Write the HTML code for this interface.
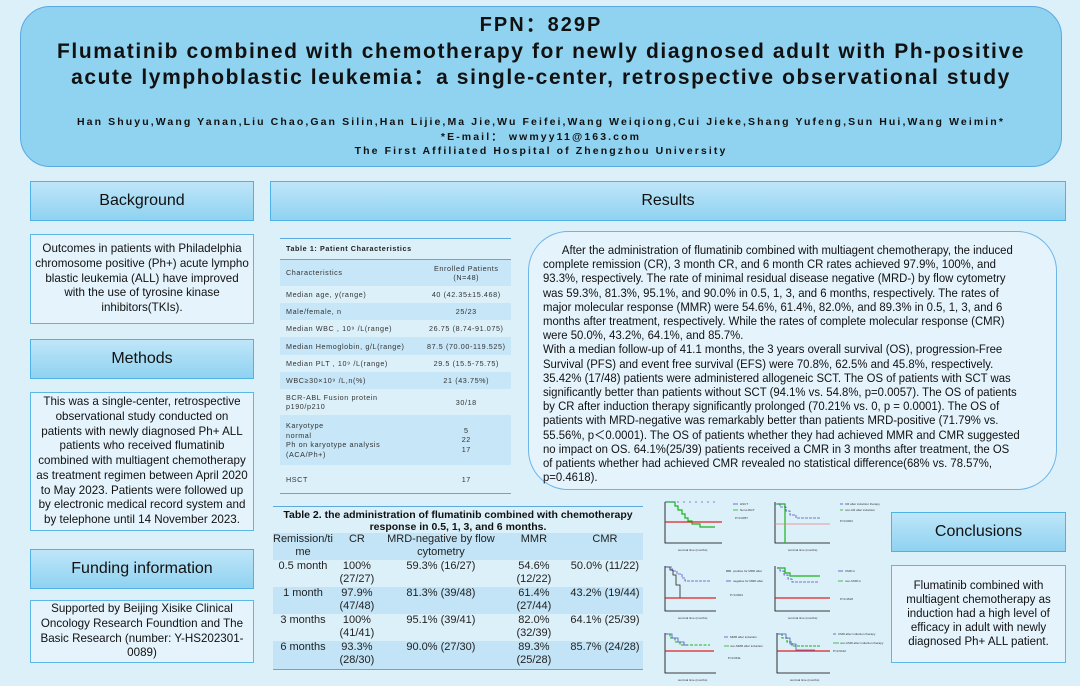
<!DOCTYPE html>
<html><head><meta charset="utf-8"><style>
*{margin:0;padding:0;box-sizing:border-box}
body{width:1080px;height:686px;background:#dcf0fa;font-family:"Liberation Sans",Arial,sans-serif;color:#111;position:relative;overflow:hidden}
.abs{position:absolute}
.hdr{left:20px;top:6px;width:1042px;height:161px;background:#90d3f1;border:1.5px solid #5aa9e2;border-radius:30px;text-align:center}
.sec{background:linear-gradient(#bfe6f8,#8fd2f1);border:1.5px solid #4fb2e6;text-align:center;font-size:16px;display:flex;align-items:center;justify-content:center}
.tb{background:#e4f3fc;border:1.5px solid #5cb6e8;font-size:11.6px;line-height:14.8px;text-align:center;display:flex;align-items:center;justify-content:center;padding:0 2px;white-space:nowrap}
table{border-collapse:collapse}
.t1 td{font-size:7.2px;letter-spacing:.6px;color:#333;padding:0 0 0 6px;vertical-align:middle}
.t1 tr.s{background:#c7e6f7}
.t2 td{font-size:11px;line-height:12.5px;text-align:center;vertical-align:top;color:#222}
.t2 tr.s{background:#c2e4f6}
</style></head><body>

<div class="abs hdr">
 <div style="margin-top:1px;font-size:20px;font-weight:bold;letter-spacing:2px">FPN：829P</div>
 <div style="margin-top:2px;font-size:21px;font-weight:bold;letter-spacing:1.6px;line-height:26px">Flumatinib combined with chemotherapy for newly diagnosed adult with Ph-positive<br>acute lymphoblastic leukemia：a single-center, retrospective observational study</div>
 <div style="margin-top:24px;font-size:10.5px;font-weight:bold;letter-spacing:2.1px;line-height:14.5px">Han Shuyu,Wang Yanan,Liu Chao,Gan Silin,Han Lijie,Ma Jie,Wu Feifei,Wang Weiqiong,Cui Jieke,Shang Yufeng,Sun Hui,Wang Weimin*<br>*E-mail： wwmyy11@163.com<br>The First Affiliated Hospital of Zhengzhou University</div>
</div>

<div class="abs sec" style="left:30px;top:181px;width:224px;height:40px">Background</div>
<div class="abs tb" style="left:30px;top:234px;width:224px;height:90px">Outcomes in patients with Philadelphia<br>chromosome positive (Ph+) acute lympho<br>blastic leukemia (ALL) have improved<br>with the use of tyrosine kinase<br>inhibitors(TKIs).</div>
<div class="abs sec" style="left:30px;top:339px;width:224px;height:40px">Methods</div>
<div class="abs tb" style="left:30px;top:392px;width:224px;height:139px">This was a single-center, retrospective<br>observational study conducted on<br>patients with newly diagnosed Ph+ ALL<br>patients who received flumatinib<br>combined with multiagent chemotherapy<br>as treatment regimen between April 2020<br>to May 2023. Patients were followed up<br>by electronic medical record system and<br>by telephone until 14 November 2023.</div>
<div class="abs sec" style="left:30px;top:549px;width:224px;height:40px">Funding information</div>
<div class="abs tb" style="left:30px;top:600px;width:224px;height:63px">Supported by Beijing Xisike Clinical<br>Oncology Research Foundtion and The<br>Basic Research (number: Y-HS202301-<br>0089)</div>

<div class="abs sec" style="left:270px;top:181px;width:796px;height:40px">Results</div>

<div class="abs" style="left:280px;top:238px;width:231px;border-top:1.5px solid #5aa9e2;border-bottom:1.5px solid #5aa9e2">
<table class="t1" style="width:100%">
<tr style="height:20px"><td colspan="2" style="font-weight:bold;color:#222">Table 1: Patient Characteristics</td></tr>
<tr class="s" style="height:27px;border-top:1px solid #5aa9e2"><td>Characteristics</td><td style="text-align:center;padding:0">Enrolled Patients<br>(N=48)</td></tr>
<tr style="height:17px"><td>Median age, y(range)</td><td style="text-align:center;padding:0">40 (42.35±15.468)</td></tr>
<tr class="s" style="height:17px"><td>Male/female, n</td><td style="text-align:center;padding:0">25/23</td></tr>
<tr style="height:17px"><td>Median WBC , 10⁹ /L(range)</td><td style="text-align:center;padding:0">26.75 (8.74-91.075)</td></tr>
<tr class="s" style="height:18px"><td>Median Hemoglobin, g/L(range)</td><td style="text-align:center;padding:0">87.5 (70.00-119.525)</td></tr>
<tr style="height:17px"><td>Median PLT , 10⁹ /L(range)</td><td style="text-align:center;padding:0">29.5 (15.5-75.75)</td></tr>
<tr class="s" style="height:17px"><td>WBC≥30×10⁹ /L,n(%)</td><td style="text-align:center;padding:0">21 (43.75%)</td></tr>
<tr style="height:26px"><td>BCR-ABL Fusion protein<br>p190/p210</td><td style="text-align:center;padding:0">30/18</td></tr>
<tr class="s" style="height:50px"><td style="line-height:9.5px">Karyotype<br>normal<br>Ph on karyotype analysis<br>(ACA/Ph+)</td><td style="text-align:center;padding:0;line-height:9.5px">5<br>22<br>17</td></tr>
<tr style="height:28px"><td>HSCT</td><td style="text-align:center;padding:0">17</td></tr>
</table></div>

<div class="abs" style="left:528px;top:231px;width:529px;height:259px;border:1.5px solid #6fb4e6;border-radius:40px;background:#e4f3fc"></div>
<div class="abs" style="left:543px;top:243px;font-size:12.2px;line-height:14.2px;white-space:nowrap;color:#111;transform:scaleX(0.93);transform-origin:0 0">
&nbsp;&nbsp;&nbsp;&nbsp;&nbsp;&nbsp;After the administration of flumatinib combined with multiagent chemotherapy, the induced<br>complete remission (CR), 3 month CR, and 6 month CR rates achieved 97.9%, 100%, and<br>93.3%, respectively. The rate of minimal residual disease negative (MRD-) by flow cytometry<br>was 59.3%, 81.3%, 95.1%, and 90.0% in 0.5, 1, 3, and 6 months, respectively. The rates of<br>major molecular response (MMR) were 54.6%, 61.4%, 82.0%, and 89.3% in 0.5, 1, 3, and 6<br>months after treatment, respectively. While the rates of complete molecular response (CMR)<br>were 50.0%, 43.2%, 64.1%, and 85.7%.<br>With a median follow-up of 41.1 months, the 3 years overall survival (OS), progression-Free<br>Survival (PFS) and event free survival (EFS) were 70.8%, 62.5% and 45.8%, respectively.<br>35.42% (17/48) patients were administered allogeneic SCT. The OS of patients with SCT was<br>significantly better than patients without SCT (94.1% vs. 54.8%, p=0.0057). The OS of patients<br>by CR after induction therapy significantly prolonged (70.21% vs. 0, p = 0.0001). The OS of<br>patients with MRD-negative was remarkably better than patients MRD-positive (71.79% vs.<br>55.56%, p＜0.0001). The OS of patients whether they had achieved MMR and CMR suggested<br>no impact on OS. 64.1%(25/39) patients received a CMR in 3 months after treatment, the OS<br>of patients whether had achieved CMR revealed no statistical difference(68% vs. 78.57%,<br>p=0.4618).
</div>

<div class="abs" style="left:273px;top:506px;width:370px;border-top:1.5px solid #5aa9e2;border-bottom:1.5px solid #5aa9e2">
<div style="text-align:center;font-size:10.5px;font-weight:bold;line-height:12px;padding-top:2px">Table 2. the administration of flumatinib combined with chemotherapy<br>response in 0.5, 1, 3, and 6 months.</div>
<table class="t2" style="width:100%">
<tr class="s" style="height:27px"><td style="width:58px">Remission/ti<br>me</td><td style="width:48px">CR</td><td style="width:120px">MRD-negative by flow<br>cytometry</td><td style="width:66px">MMR</td><td>CMR</td></tr>
<tr style="height:27px"><td>0.5 month</td><td>100%<br>(27/27)</td><td>59.3% (16/27)</td><td>54.6%<br>(12/22)</td><td>50.0% (11/22)</td></tr>
<tr class="s" style="height:27px"><td>1 month</td><td>97.9%<br>(47/48)</td><td>81.3% (39/48)</td><td>61.4%<br>(27/44)</td><td>43.2% (19/44)</td></tr>
<tr style="height:27px"><td>3 months</td><td>100%<br>(41/41)</td><td>95.1% (39/41)</td><td>82.0%<br>(32/39)</td><td>64.1% (25/39)</td></tr>
<tr class="s" style="height:28px"><td>6 months</td><td>93.3%<br>(28/30)</td><td>90.0% (27/30)</td><td>89.3%<br>(25/28)</td><td>85.7% (24/28)</td></tr>
</table></div>

<svg class="abs" style="left:640px;top:490px" width="250" height="196" viewBox="0 0 250 196" font-family="Liberation Sans" font-size="3">
<g stroke-width="0.8" fill="none">
 <path d="M25 12V53H82" stroke="#000"/>
 <path d="M25 12H35V16H38V20H42V24H45V28H48V31H52V34H60V37H75" stroke="#1db31d" stroke-width="1.2"/>
 <path d="M25 12H75" stroke="#6060d0" stroke-dasharray="2 4"/>
 <path d="M25 32H82" stroke="#e02020" stroke-width="1.3"/>
 <path d="M135 12V53H190" stroke="#000"/>
 <path d="M137 14H145V53" stroke="#1db31d" stroke-width="1.2"/>
 <path d="M135 14H140V17H146V21H150V25H156V28H180" stroke="#5050c0" stroke-dasharray="3 1"/>
 <path d="M135 34H190" stroke="#e08080"/>
 <path d="M25 76V121H76" stroke="#000"/>
 <path d="M25 77H30V80H33V85H36V95H40V108H65" stroke="#222"/>
 <path d="M25 77H32V81H37V84H42V88H45V91H70" stroke="#5050c0" stroke-dasharray="3 1"/>
 <path d="M25 108H76" stroke="#e02020" stroke-width="1.3"/>
 <path d="M135 76V121H190" stroke="#000"/>
 <path d="M137 78H145V83H150V86H180" stroke="#1db31d" stroke-width="1.2"/>
 <path d="M137 78H140V81H144V85H148V89H152V92H178" stroke="#5050c0" stroke-dasharray="3 1"/>
 <path d="M135 108H190" stroke="#e02020" stroke-width="1.3"/>
 <path d="M25 143V183H76" stroke="#000"/>
 <path d="M25 144H30V148H35V152H40V155H70" stroke="#1db31d" stroke-dasharray="3 1.5" stroke-width="1.1"/>
 <path d="M25 144H32V148H38V152H44V155H48" stroke="#5050c0"/>
 <path d="M25 161H74" stroke="#e02020" stroke-width="1.3"/>
 <path d="M137 143V183H190" stroke="#000"/>
 <path d="M137 144H142V148H147V152H152V156H180" stroke="#1db31d" stroke-dasharray="3 1" stroke-width="1.1"/>
 <path d="M137 144H146V148H150V154H156V160H175" stroke="#5050c0"/>
 <path d="M137 161H190" stroke="#e02020" stroke-width="1.3"/>
 <path d="M93 14h5" stroke="#5050c0"/><path d="M93 20h5" stroke="#1db31d"/>
 <path d="M200 14h3" stroke="#5050c0"/><path d="M200 20h3" stroke="#1db31d"/>
 <path d="M86 81h5" stroke="#222"/><path d="M86 91h5" stroke="#5050c0"/>
 <path d="M198 81h5" stroke="#5050c0"/><path d="M198 91h5" stroke="#1db31d"/>
 <path d="M84 147h4" stroke="#5050c0"/><path d="M84 156h5" stroke="#1db31d"/>
 <path d="M193 144h3" stroke="#5050c0"/><path d="M193 153h6" stroke="#1db31d"/>
</g>
<g fill="#333">
 <text x="100" y="15">HSCT</text><text x="100" y="21">Non-HSCT</text><text x="95" y="29">P=0.0057</text>
 <text x="205" y="15">CR after induction therapy</text><text x="205" y="21">non-CR after induction</text><text x="200" y="32">P=0.0001</text>
 <text x="93" y="82">positive for MRD after</text><text x="93" y="92">negative for MRD after</text><text x="90" y="106">P&lt;0.0001</text>
 <text x="205" y="82">CMR in</text><text x="205" y="92">non-CMR in</text><text x="200" y="110">P=0.4618</text>
 <text x="90" y="148">MMR after induction</text><text x="90" y="157">non-MMR after induction</text><text x="88" y="169">P=0.6611</text>
 <text x="198" y="145">CMR after induction therapy</text><text x="200" y="154">non-CMR after induction therapy</text><text x="193" y="162">P=0.6412</text>
 <text x="38" y="61">survival time (months)</text><text x="148" y="61">survival time (months)</text>
 <text x="38" y="129">survival time (months)</text><text x="148" y="129">survival time (months)</text>
 <text x="38" y="191">survival time (months)</text><text x="150" y="191">survival time (months)</text>
</g>
</svg>

<div class="abs sec" style="left:891px;top:512px;width:175px;height:40px">Conclusions</div>
<div class="abs tb" style="left:891px;top:565px;width:175px;height:98px;font-size:11.5px;line-height:14px">Flumatinib combined with<br>multiagent chemotherapy as<br>induction had a high level of<br>efficacy in adult with newly<br>diagnosed Ph+ ALL patient.</div>
</body></html>
